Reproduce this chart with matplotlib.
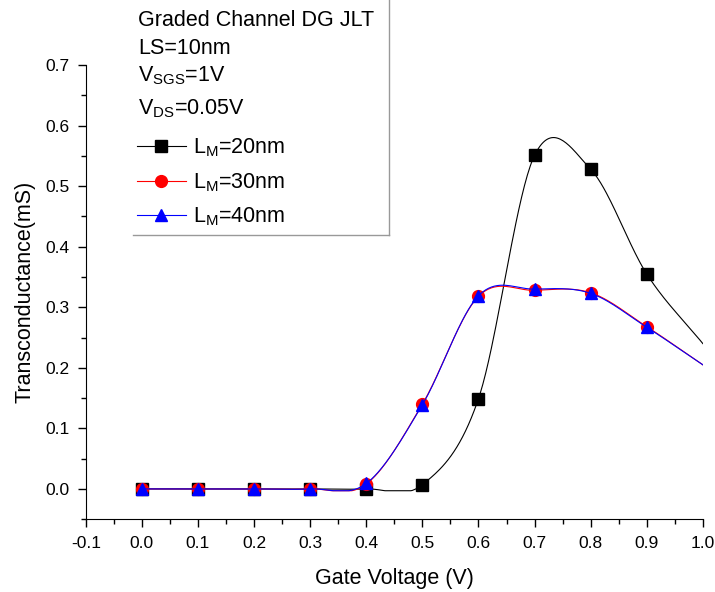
import numpy as np
import matplotlib
matplotlib.use("Agg")
import matplotlib.pyplot as plt
from matplotlib.lines import Line2D

plt.rcParams['font.family'] = ['Liberation Sans', 'DejaVu Sans']
plt.rcParams['mathtext.fontset'] = 'custom'
plt.rcParams['mathtext.rm'] = 'Liberation Sans'
plt.rcParams['mathtext.it'] = 'Liberation Sans'

# gate voltage (V); last point has no symbol, only the curve
vg = [0.0, 0.1, 0.2, 0.3, 0.4, 0.5, 0.6, 0.7, 0.8, 0.9, 1.0]
gm_20 = [0.0, 0.0, 0.0, 0.0, 0.0, 0.007, 0.149, 0.551, 0.528, 0.355, 0.240]
gm_30 = [0.0, 0.0, 0.0, 0.0, 0.008, 0.140, 0.318, 0.328, 0.324, 0.268, 0.205]
gm_40 = [0.0, 0.0, 0.0, 0.0, 0.009, 0.139, 0.319, 0.330, 0.323, 0.267, 0.205]
labels = ['L$_\\mathrm{M}$=20nm', 'L$_\\mathrm{M}$=30nm', 'L$_\\mathrm{M}$=40nm']
header = ['Graded Channel DG JLT', 'LS=10nm', 'V$_\\mathrm{SGS}$=1V', 'V$_\\mathrm{DS}$=0.05V']


def smooth(x, y, n=40):
    # Catmull-Rom curve through the points (smoothed line as in Origin)
    x = np.asarray(x, float)
    y = np.asarray(y, float)
    m = np.gradient(y, x)
    m[1:-1] = (y[2:] - y[:-2]) / (x[2:] - x[:-2])
    xs, ys = [], []
    for i in range(len(x) - 1):
        h = x[i + 1] - x[i]
        t = np.linspace(0, 1, n)
        h00 = 2 * t**3 - 3 * t**2 + 1
        h10 = t**3 - 2 * t**2 + t
        h01 = -2 * t**3 + 3 * t**2
        h11 = t**3 - t**2
        seg = h00 * y[i] + h10 * h * m[i] + h01 * y[i + 1] + h11 * h * m[i + 1]
        # no dips below the lower end point (the original stays flat there)
        seg = np.maximum(seg, min(y[i], y[i + 1]) - 0.003)
        xs.append(x[i] + t * h)
        ys.append(seg)
    return np.concatenate(xs), np.concatenate(ys)


fig = plt.figure(figsize=(7.15, 5.92), dpi=100)
ax = fig.add_axes([0.120, 0.123, 0.863, 0.767])

series = [(gm_20, 'black', 's', 8), (gm_30, 'red', 'o', 8.5), (gm_40, 'blue', '^', 9)]
handles = []
for (ys, c, mk, ms), lab in zip(series, labels):
    xs, yy = smooth(vg, ys)
    ax.plot(xs, yy, color=c, lw=0.8)
    ax.plot(vg[:-1], ys[:-1], ls='none', marker=mk, color=c, ms=ms)
    handles.append(Line2D([], [], color=c, lw=0.8, marker=mk, ms=ms))

ax.set_xlim(-0.1, 1.0)
ax.set_ylim(-0.05, 0.7)
ax.set_xticks(np.arange(-0.1, 1.01, 0.1))
ax.set_xticks(np.arange(-0.05, 1.0, 0.1), minor=True)
ax.set_yticks(np.arange(0, 0.71, 0.1))
ax.set_yticks(np.arange(-0.05, 0.7, 0.1), minor=True)
ax.xaxis.set_major_formatter(matplotlib.ticker.FormatStrFormatter('%.1f'))
ax.yaxis.set_major_formatter(matplotlib.ticker.FormatStrFormatter('%.1f'))
ax.tick_params(which='both', direction='out', labelsize=12.5, width=1)
ax.tick_params(which='major', length=6, pad=6)
ax.tick_params(which='minor', length=3.5)
ax.spines['top'].set_visible(False)
ax.spines['right'].set_visible(False)
ax.set_xlabel('Gate Voltage (V)', fontsize=15.5, labelpad=12)
ax.set_ylabel('Transconductance(mS)', fontsize=15.5, labelpad=7)

# legend box: only bottom and right edges are visible
W, H = 715.0, 592.0
fig.add_artist(Line2D([133 / W, 389 / W], [1 - 235 / H, 1 - 235 / H], color='#999999', lw=1))
fig.add_artist(Line2D([389 / W, 389 / W], [1 - 235 / H, 1.0], color='#999999', lw=1))

for txt, yp in zip(header, [20, 48, 76, 109]):
    fig.text(138 / W, 1 - yp / H, txt, fontsize=15.5, va='center', ha='left')

fig.legend(handles, labels, loc='upper left', bbox_to_anchor=(128 / W, 1 - 128 / H),
           frameon=False, fontsize=15.5, handlelength=2.3, labelspacing=0.55,
           handletextpad=0.3, borderaxespad=0)

fig.savefig('out.png', dpi=100)
